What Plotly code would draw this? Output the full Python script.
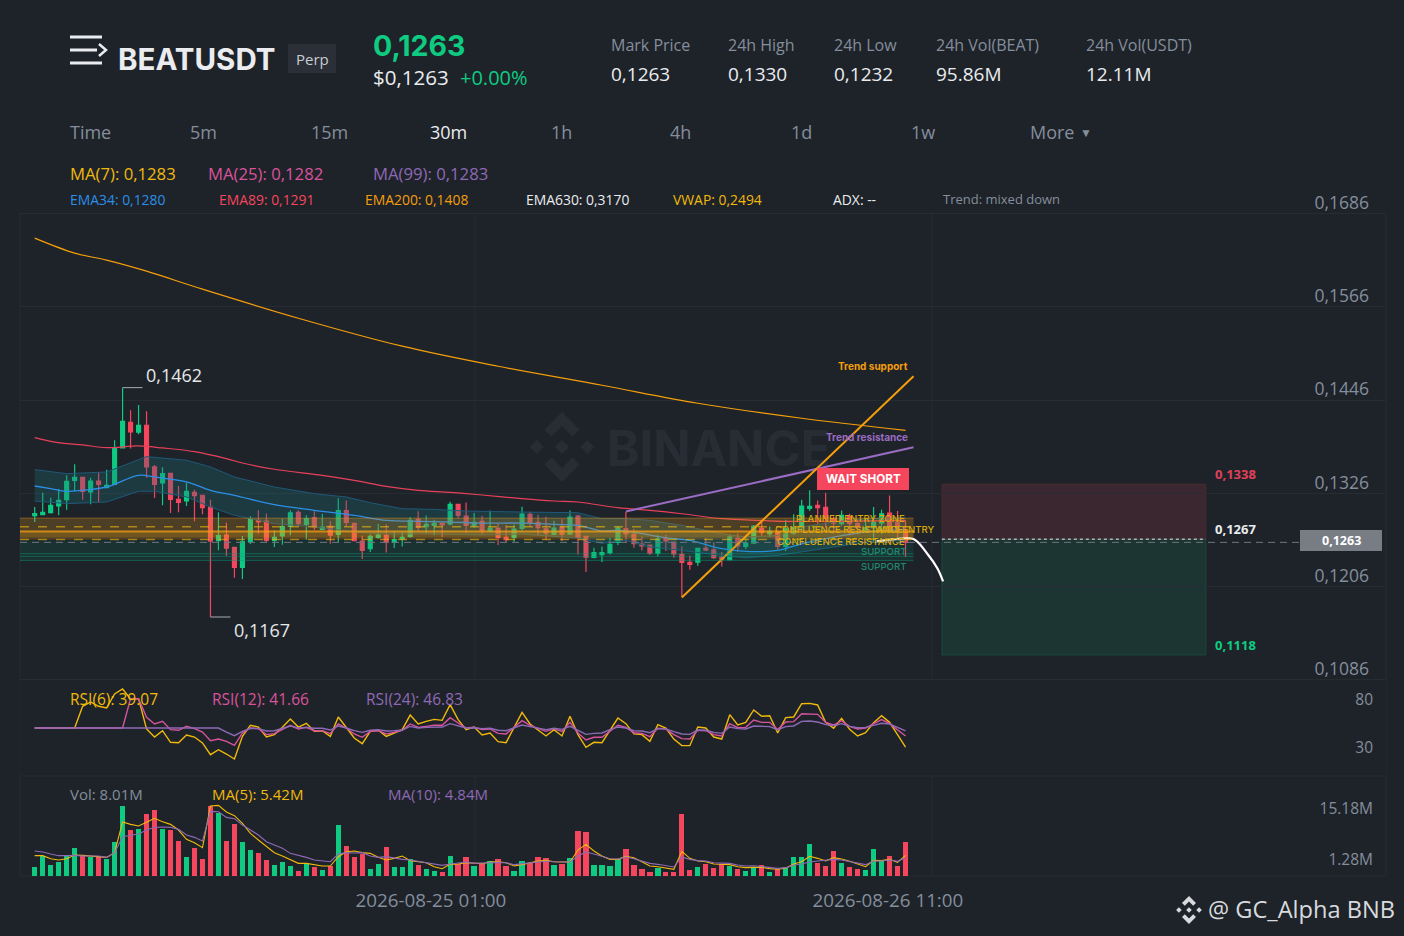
import plotly.graph_objects as go

W = 1404
H = 936

BG = "#1e2329"
GRID = "#272c33"
GRAY = "#848e9c"
WHITE = "#eaecef"
GREEN = "#0ecb81"
RED = "#f6465d"
YELLOW = "#f0b90b"
PINK = "#d9539c"
PURPLE = "#8e69b5"
ORANGE = "#f59e0b"
BLUE = "#2b8fe8"
FONT = "Open Sans"

# candles, 30m bars
open_ = [0.12973,0.12986,0.13012,0.13098,0.13179,0.13428,0.13467,0.13278,0.13419,0.13334,
         0.13377,0.13844,0.14175,0.14046,0.14136,0.13600,0.13394,0.13518,0.13184,0.13162,
         0.13274,0.13235,0.13085,0.12652,0.12724,0.12566,0.12308,0.12643,0.12913,0.12905,
         0.12656,0.12712,0.12836,0.13016,0.12862,0.12948,0.12797,0.12836,0.12733,0.13037,
         0.12874,0.12647,0.12548,0.12694,0.12720,0.12630,0.12673,0.12707,0.12926,0.12831,
         0.12848,0.12874,0.12866,0.13119,0.12969,0.12844,0.12900,0.12775,0.12810,0.12694,
         0.12694,0.12810,0.12990,0.12887,0.12805,0.12733,0.12827,0.12737,0.12969,0.12707,
         0.12437,0.12471,0.12497,0.12630,0.12805,0.12732,0.12608,0.12595,0.12492,0.12689,
         0.12634,0.12475,0.12372,0.12376,0.12556,0.12535,0.12436,0.12406,0.12681,0.12578,
         0.12621,0.12809,0.12741,0.12762,0.12578,0.12749,0.12818,0.13067,0.13105,0.13080,
         0.12934,0.12870,0.12964,0.12870,0.12775,0.12818,0.12878,0.13007,0.12891,0.12792]
close = [0.12999,0.13016,0.13106,0.13171,0.13415,0.13467,0.13287,0.13419,0.13377,0.13364,
         0.13848,0.14187,0.14050,0.14136,0.13600,0.13377,0.13514,0.13184,0.13145,0.13287,
         0.13231,0.13076,0.12647,0.12716,0.12557,0.12308,0.12639,0.12930,0.12892,0.12656,
         0.12694,0.12832,0.13008,0.12870,0.12935,0.12828,0.12827,0.12724,0.13037,0.12887,
         0.12651,0.12527,0.12707,0.12724,0.12630,0.12664,0.12694,0.12913,0.12823,0.12861,
         0.12874,0.12853,0.13119,0.12977,0.12848,0.12887,0.12784,0.12810,0.12694,0.12664,
         0.12801,0.12994,0.12887,0.12818,0.12750,0.12814,0.12733,0.12956,0.12694,0.12441,
         0.12497,0.12497,0.12604,0.12818,0.12741,0.12612,0.12586,0.12492,0.12676,0.12646,
         0.12483,0.12372,0.12346,0.12552,0.12531,0.12432,0.12415,0.12698,0.12586,0.12621,
         0.12835,0.12758,0.12771,0.12578,0.12805,0.12818,0.13097,0.13093,0.13075,0.12938,
         0.12878,0.12977,0.12870,0.12818,0.12818,0.12891,0.12998,0.12784,0.12784,0.12630]
high = [0.13085,0.13269,0.13205,0.13317,0.13492,0.13634,0.13471,0.13462,0.13527,0.13565,
        0.13943,0.14620,0.14329,0.14398,0.14316,0.13625,0.13595,0.13518,0.13355,0.13398,
        0.13308,0.13235,0.13179,0.13016,0.12883,0.12566,0.12712,0.12965,0.13042,0.13001,
        0.12785,0.12930,0.13042,0.13042,0.12978,0.13029,0.12999,0.12900,0.13196,0.13170,
        0.12883,0.12715,0.12733,0.12870,0.12861,0.12776,0.12763,0.12956,0.13029,0.12977,
        0.12921,0.12874,0.13153,0.13119,0.13144,0.13007,0.12973,0.13041,0.12870,0.12853,
        0.12861,0.13089,0.13024,0.12986,0.12960,0.12909,0.12926,0.13041,0.12986,0.12707,
        0.12561,0.12578,0.12690,0.12836,0.13020,0.12805,0.12706,0.12595,0.12724,0.12724,
        0.12634,0.12578,0.12462,0.12561,0.12685,0.12634,0.12505,0.12732,0.12741,0.12681,
        0.12852,0.12912,0.12835,0.12784,0.12921,0.12990,0.13178,0.13299,0.13170,0.13268,
        0.12964,0.13041,0.12998,0.12921,0.12934,0.13084,0.13050,0.13234,0.13032,0.12912]
low = [0.12892,0.12978,0.13000,0.12978,0.13051,0.13291,0.13179,0.13119,0.13149,0.13334,
       0.13377,0.13844,0.13836,0.14020,0.13462,0.13201,0.13106,0.13008,0.13016,0.13098,
       0.12900,0.12991,0.11670,0.12527,0.12459,0.12175,0.12158,0.12609,0.12742,0.12622,
       0.12570,0.12600,0.12720,0.12840,0.12665,0.12793,0.12797,0.12612,0.12634,0.12836,
       0.12642,0.12415,0.12505,0.12677,0.12501,0.12557,0.12578,0.12690,0.12775,0.12750,
       0.12720,0.12698,0.12848,0.12939,0.12750,0.12818,0.12733,0.12775,0.12595,0.12630,
       0.12638,0.12780,0.12836,0.12724,0.12664,0.12720,0.12647,0.12733,0.12475,0.12248,
       0.12424,0.12377,0.12475,0.12595,0.12634,0.12561,0.12526,0.12466,0.12449,0.12518,
       0.12432,0.11926,0.12277,0.12329,0.12518,0.12415,0.12320,0.12398,0.12505,0.12543,
       0.12612,0.12719,0.12698,0.12535,0.12518,0.12728,0.12775,0.13032,0.12870,0.12818,
       0.12741,0.12844,0.12719,0.12732,0.12762,0.12634,0.12741,0.12784,0.12698,0.12441]

# volume in millions
volume = [2.36,5.45,3.00,3.90,5.45,7.54,5.45,5.08,5.45,4.54,
          9.35,19.07,12.62,12.80,16.89,17.98,12.80,12.62,9.62,5.18,
          7.72,4.63,19.07,17.07,9.44,14.07,9.26,6.99,6.36,4.27,
          3.00,3.72,2.72,1.36,3.45,2.36,1.63,2.72,13.80,8.17,
          5.18,5.99,1.91,3.18,7.81,2.36,2.45,4.63,3.09,1.91,
          1.45,1.09,5.36,3.27,5.18,2.72,3.27,4.00,4.54,2.72,
          1.45,4.18,3.45,5.27,4.90,3.09,3.27,4.90,12.35,11.99,
          3.00,2.91,2.63,4.54,7.26,3.09,1.82,1.09,2.18,1.09,
          1.09,16.80,1.63,2.54,3.27,2.18,3.27,2.72,2.00,1.27,
          2.18,2.91,1.09,2.00,2.36,5.08,5.18,8.72,3.45,2.81,
          6.90,3.45,2.54,1.82,1.63,7.35,4.00,5.45,2.63,9.26]
vol_ma5 = [5.54,5.54,4.72,4.36,4.72,5.72,5.63,5.45,5.45,5.08,
           6.36,14.71,14.07,13.62,14.62,15.71,14.80,14.07,12.53,9.99,
           9.08,7.72,19.07,19.25,17.43,16.43,14.35,11.62,9.81,7.99,
           6.36,5.45,4.54,3.45,3.45,3.00,2.72,2.72,5.27,6.63,
           6.81,6.36,6.17,5.08,4.36,4.81,5.45,4.18,3.81,3.63,
           2.54,2.00,3.18,3.27,3.63,3.45,3.36,3.81,3.90,3.63,
           2.72,3.09,3.54,4.09,4.27,3.90,3.81,3.81,7.08,8.63,
           6.81,5.45,4.54,4.54,5.36,4.99,3.90,2.72,2.54,2.09,
           1.82,6.72,4.81,4.09,3.90,3.27,3.18,3.09,2.54,2.27,
           2.36,2.36,2.00,1.82,2.09,3.27,3.90,5.36,4.81,4.09,
           4.99,4.63,4.00,3.27,2.54,4.27,4.18,4.54,3.72,5.63]
vol_ma10 = [6.81,6.54,5.99,5.54,5.54,5.63,5.45,5.45,5.45,5.08,
            6.36,10.71,10.99,11.44,12.53,13.26,13.35,13.26,12.71,11.17,
            10.53,9.53,17.62,17.52,15.98,15.62,13.89,12.53,11.17,9.35,
            8.44,7.54,6.17,5.72,5.08,4.36,4.18,3.90,5.99,6.36,
            6.27,6.36,5.45,5.08,5.27,4.81,4.54,4.36,4.00,3.63,
            3.27,2.91,3.27,3.45,3.81,3.45,3.45,3.63,3.72,3.63,
            3.09,3.27,3.45,3.81,4.00,3.90,3.81,3.81,5.45,6.54,
            5.99,5.27,4.72,4.63,5.18,4.72,4.09,3.45,3.18,2.81,
            2.45,5.18,4.54,4.18,4.09,3.63,3.63,3.45,3.00,2.72,
            2.81,2.63,2.27,2.09,2.27,2.91,3.27,3.81,4.09,4.36,
            4.54,4.36,3.90,3.45,3.09,4.09,4.09,4.36,4.00,4.99]

rsi6 = [50,50,50,50,50,50,72.6,77.1,72.6,70.8,
        85.4,90.6,80.2,80.6,49.0,40.6,47.2,35.1,34.7,42.7,
        40.6,34.4,22.2,27.4,22.9,17.7,41.3,52.8,51.0,40.6,
        43.1,50.7,59.4,51.0,54.9,46.5,47.2,41.3,61.5,50.7,
        39.6,33.7,46.5,47.6,41.3,44.8,48.3,63.5,54.2,56.9,
        59.0,58.0,74.3,58.7,48.3,51.0,42.7,44.8,35.8,34.7,
        50.7,66.3,54.2,47.6,41.7,48.3,41.7,62.2,43.1,29.9,
        35.1,34.7,47.2,60.4,54.5,43.8,43.1,36.1,53.5,50.0,
        38.5,31.6,31.6,51.0,50.0,40.6,38.5,63.9,53.1,55.9,
        68.8,62.2,62.8,44.8,60.8,61.5,75.3,75.7,74.0,55.9,
        49.7,60.1,48.6,41.7,45.1,55.5,62.8,55.9,43.1,30.2]
rsi12 = [50,50,50,50,50,50,50,50,50,50,
         50,50,80.6,80.6,61.1,54.2,56.9,48.3,47.6,51.7,
         49.3,45.8,36.8,38.5,36.1,31.9,44.8,50,49.3,43.1,
         44.1,48.3,52.8,49.0,50.7,47.2,47.2,44.1,54.2,50,
         43.8,40.3,46.5,47.2,43.8,45.5,47.6,54.2,50.7,51.7,
         52.8,52.8,60.8,55.2,50,50.7,48.3,49.0,44.4,43.8,
         50.7,57.6,52.8,50,46.5,49.3,46.5,55.9,44.8,37.5,
         40.3,40.3,46.5,52.8,50.7,45.1,44.4,41.0,49.7,49.0,
         43.1,38.9,38.5,47.6,47.2,43.1,41.7,54.5,50.3,50.7,
         58.3,55.9,55.9,48.3,56.2,56.6,64.9,64.9,64.2,55.9,
         53.1,57.6,51.7,49.0,50,54.5,58.7,54.5,48.3,41.7]
rsi24 = [50,50,50,50,50,50,50,50,50,50,
         50,50,50,50,50,50,50,50,50,50,
         50,50,50,50,45.8,42.0,46.5,49.7,49.3,46.9,
         47.2,49.3,52.1,50,50.7,49.7,49.7,47.9,52.1,50,
         47.2,45.5,47.6,48.3,46.9,47.2,47.9,51.7,50,50.7,
         51.0,51.0,54.5,52.1,50,50.3,49.3,49.7,47.6,47.2,
         50.3,53.1,51.4,49.7,48.3,49.7,48.6,51.7,47.2,43.4,
         44.4,44.8,48.3,51.0,50,47.2,46.9,45.1,49.3,49.0,
         46.2,43.8,43.4,47.9,47.6,45.5,44.4,51.0,49.3,49.0,
         52.1,51.7,51.4,48.3,51.4,52.1,56.9,57.3,56.2,53.5,
         52.4,54.5,51.7,50.3,50.7,52.8,54.9,54.2,50.7,46.9]

# moving averages on price, read at a few bars
ema200_idx = [0,5,9,14,21,33,46,58,71,83,96,109]
ema200 = [0.16543,0.16350,0.16260,0.16118,0.15887,0.15513,0.15153,0.14895,0.14651,0.14419,0.14226,0.14071]
ema89_idx = [0,2,4,6,9,13,16,20,24,26,30,36,40,44,48,52,56,61,65,68,73,77,81,86,91,94,109]
ema89 = [0.13977,0.13930,0.13900,0.13883,0.13848,0.13870,0.13844,0.13797,0.13707,0.13651,0.13570,0.13492,
         0.13428,0.13350,0.13299,0.13273,0.13239,0.13192,0.13162,0.13149,0.13076,0.13041,0.12998,0.12934,
         0.12912,0.12900,0.12912]
ema34_idx = [0,2,4,9,10,13,15,19,22,25,30,35,40,44,48,52,56,61,65,68,71,73,76,79,82,86,89,93,96,100,104,109]
ema34 = [0.13355,0.13321,0.13287,0.13342,0.13377,0.13492,0.13471,0.13407,0.13299,0.13235,0.13115,0.13042,
         0.12977,0.12913,0.12900,0.12891,0.12878,0.12878,0.12861,0.12848,0.12776,0.12784,0.12741,0.12689,
         0.12655,0.12548,0.12513,0.12526,0.12612,0.12698,0.12762,0.12797]
band_up_idx = [0,4,9,13,14,19,22,25,30,35,39,42,46,50,54,61,68,71,74,77,81,86,89,93,96,100,104,109]
band_up = [0.13565,0.13514,0.13535,0.13698,0.13733,0.13686,0.13600,0.13471,0.13342,0.13256,0.13213,0.13140,
           0.13063,0.13054,0.13033,0.13020,0.13011,0.12934,0.12934,0.12912,0.12848,0.12741,0.12698,0.12719,
           0.12827,0.12891,0.12934,0.12947]
band_lo_idx = [0,4,9,13,15,19,22,25,30,35,40,44,48,52,56,61,65,68,71,74,77,81,86,89,93,96,100,104,109]
band_lo = [0.13162,0.13128,0.13149,0.13287,0.13287,0.13214,0.13085,0.12978,0.12870,0.12828,0.12763,0.12736,
           0.12740,0.12737,0.12726,0.12736,0.12707,0.12685,0.12618,0.12655,0.12569,0.12526,0.12462,0.12432,
           0.12462,0.12505,0.12569,0.12634,0.12655]

# drawn lines
trend_sup_idx = [81,110]
trend_sup = [0.11921,0.14767]
trend_res_idx = [74,110]
trend_res = [0.13028,0.13852]
path_idx = [105.4,107.7,110,111.7,113,113.7]
path_price = [0.12642,0.12672,0.12672,0.12487,0.12294,0.12127]

# zones, right end is just after the last bar
zone_end = 110
resist_zone = [0.12664,0.12942]
resist_core = [0.12693,0.12784]
resist_lines = [0.12771]
resist_dash = [0.12831,0.12668]
support_zone = [0.12397,0.12655]
support_lines = [0.12484,0.12449,0.12397]
last_price = 0.1263
high_mark = 0.1462
low_mark = 0.1167
high_idx = 11
low_idx = 22

# short position box
box_idx = [113.55,146.6]
box_stop = 0.1338
box_entry = 0.1267
box_target = 0.1118

price_ticks = [0.1086,0.1206,0.1326,0.1446,0.1566,0.1686]
rsi_ticks = [30,80]
vol_ticks = [1.28,15.18]
vol_ticktext = ["1.28M","15.18M"]
date_ticks = [55.1,112.3]
date_labels = ["2026-08-25 01:00","2026-08-26 11:00"]

header_cols = [(611,"Mark Price","0,1263"),(728,"24h High","0,1330"),(834,"24h Low","0,1232"),
               (936,"24h Vol(BEAT)","95.86M"),(1086,"24h Vol(USDT)","12.11M")]
timeframes = [(70,"Time"),(190,"5m"),(311,"15m"),(430,"30m"),(551,"1h"),(670,"4h"),(791,"1d"),(911,"1w"),(1030,"More")]
ma_legend = [(70,"MA(7): 0,1283",YELLOW),(208,"MA(25): 0,1282",PINK),(373,"MA(99): 0,1283",PURPLE)]
ema_legend = [(70,"EMA34: 0,1280",BLUE),(219,"EMA89: 0,1291",RED),(365,"EMA200: 0,1408",ORANGE),
              (526,"EMA630: 0,3170",WHITE),(673,"VWAP: 0,2494",YELLOW),(833,"ADX: --",WHITE),(943,"Trend: mixed down",GRAY)]
rsi_legend = [(70,"RSI(6): 39.07",YELLOW),(212,"RSI(12): 41.66",PINK),(366,"RSI(24): 46.83",PURPLE)]
vol_legend = [(70,"Vol: 8.01M",GRAY),(212,"MA(5): 5.42M",YELLOW),(388,"MA(10): 4.84M",PURPLE)]


def px_x(x):
    return x / W


def px_y(y):
    return 1 - y / H


annotations = []
shapes = []


def label(x, y, text, color=WHITE, size=16, anchor="left", weight=None, family=FONT):
    if anchor == "left":
        x = x - 1
    annotations.append(dict(xref="paper", yref="paper", x=px_x(x), y=px_y(y), text=text, showarrow=False,
                            xanchor=anchor, yanchor="middle", borderpad=0,
                            font=dict(family=family, size=size, color=color, weight=weight)))


def paper_poly(points, color, layer="above"):
    path = "M " + " L ".join(f"{px_x(a):.5f},{px_y(b):.5f}" for a, b in points) + " Z"
    shapes.append(dict(type="path", path=path, xref="paper", yref="paper", fillcolor=color, line_width=0, layer=layer))


def paper_line(x0, y0, x1, y1, color, width=1, layer="above"):
    shapes.append(dict(type="line", xref="paper", yref="paper", x0=px_x(x0), x1=px_x(x1), y0=px_y(y0), y1=px_y(y1),
                       line=dict(color=color, width=width), layer=layer))


def binance_logo(cx, cy, r, color, layer="above"):
    top = [(0, -1), (.5, -.5), (.3, -.3), (0, -.6), (-.3, -.3), (-.5, -.5)]
    paper_poly([(cx + a * r, cy + b * r) for a, b in top], color, layer)
    paper_poly([(cx + a * r, cy - b * r) for a, b in top], color, layer)
    for dx in (-.72, 0, .72):
        paper_poly([(cx + (dx - .2) * r, cy), (cx + dx * r, cy - .2 * r), (cx + (dx + .2) * r, cy), (cx + dx * r, cy + .2 * r)], color, layer)


def zone(y0, y1, fill):
    shapes.append(dict(type="rect", xref="x", yref="y", x0=-1.84, x1=zone_end, y0=y0, y1=y1, fillcolor=fill, line_width=0, layer="above"))


def hline(y, color, width=1, dash="solid", x0=-1.84, x1=zone_end):
    shapes.append(dict(type="line", xref="x", yref="y", x0=x0, x1=x1, y0=y, y1=y, line=dict(color=color, width=width, dash=dash), layer="above"))


bars = list(range(len(close)))
fig = go.Figure()

# EMA band first so candles sit on top
fig.add_trace(go.Scatter(x=band_up_idx, y=band_up, mode="lines", line=dict(color="#1f5878", width=1), yaxis="y"))
fig.add_trace(go.Scatter(x=band_lo_idx, y=band_lo, mode="lines", line=dict(color="#1f5878", width=1), fill="tonexty",
                         fillcolor="rgba(34,112,124,0.30)", yaxis="y"))
fig.add_trace(go.Scatter(x=ema34_idx, y=ema34, mode="lines", line=dict(color=BLUE, width=1.3, shape="spline"), yaxis="y"))
fig.add_trace(go.Scatter(x=ema89_idx, y=ema89, mode="lines", line=dict(color="#e8405a", width=1.2, shape="spline"), yaxis="y"))
fig.add_trace(go.Scatter(x=ema200_idx, y=ema200, mode="lines", line=dict(color=ORANGE, width=1.2, shape="spline"), yaxis="y"))

fig.add_trace(go.Candlestick(x=bars, open=open_, high=high, low=low, close=close, whiskerwidth=0,
                             increasing=dict(line=dict(color=GREEN, width=1.2), fillcolor=GREEN),
                             decreasing=dict(line=dict(color=RED, width=1.2), fillcolor=RED), yaxis="y"))

fig.add_trace(go.Scatter(x=trend_res_idx, y=trend_res, mode="lines", line=dict(color="#9b6cc4", width=2), yaxis="y"))
fig.add_trace(go.Scatter(x=trend_sup_idx, y=trend_sup, mode="lines", line=dict(color=ORANGE, width=2), yaxis="y"))
fig.add_trace(go.Scatter(x=path_idx, y=path_price, mode="lines", line=dict(color="#ffffff", width=2.2, shape="spline"), yaxis="y"))

# rsi pane
fig.add_trace(go.Scatter(x=bars, y=rsi6, mode="lines", line=dict(color=YELLOW, width=1.4), yaxis="y2"))
fig.add_trace(go.Scatter(x=bars, y=rsi12, mode="lines", line=dict(color=PINK, width=1.4), yaxis="y2"))
fig.add_trace(go.Scatter(x=bars, y=rsi24, mode="lines", line=dict(color=PURPLE, width=1.4), yaxis="y2"))

# volume pane
vol_colors = [GREEN if c >= o else RED for o, c in zip(open_, close)]
fig.add_trace(go.Bar(x=bars, y=volume, marker=dict(color=vol_colors, line_width=0), width=0.66, yaxis="y3"))
fig.add_trace(go.Scatter(x=bars, y=vol_ma5, mode="lines", line=dict(color=YELLOW, width=1.1), yaxis="y3"))
fig.add_trace(go.Scatter(x=bars, y=vol_ma10, mode="lines", line=dict(color=PURPLE, width=1.1), yaxis="y3"))

# resistance and support zones
zone(resist_zone[0], resist_zone[1], "rgba(232,150,30,0.24)")
zone(resist_core[0], resist_core[1], "rgba(240,170,20,0.22)")
for v in resist_lines:
    hline(v, "rgba(245,160,20,0.7)", 2)
for v in resist_dash:
    hline(v, "rgba(240,185,11,0.6)", 1.5, "dash")
hline(resist_zone[1], "rgba(232,150,30,0.4)", 1)
zone(support_zone[0], support_zone[1], "rgba(14,140,110,0.14)")
for v in support_lines:
    hline(v, "rgba(14,150,120,0.45)", 1)

# short box
shapes.append(dict(type="rect", xref="x", yref="y", x0=box_idx[0], x1=box_idx[1], y0=box_entry, y1=box_stop,
                   fillcolor="rgba(246,70,93,0.13)", line=dict(color="rgba(246,70,93,0.12)", width=1), layer="below"))
shapes.append(dict(type="rect", xref="x", yref="y", x0=box_idx[0], x1=box_idx[1], y0=box_target, y1=box_entry,
                   fillcolor="rgba(14,203,129,0.11)", line=dict(color="rgba(14,203,129,0.18)", width=1), layer="below"))
hline(box_entry, "#aab0b6", 1.3, "3px,3px", x0=box_idx[0], x1=box_idx[1])
hline(last_price, "#6f757d", 1, "7px,5px", x1=158.6)

# high and low markers
shapes.append(dict(type="line", xref="x", yref="y", x0=high_idx, x1=high_idx + 2.5, y0=high_mark, y1=high_mark, line=dict(color="#a7acb3", width=1)))
shapes.append(dict(type="line", xref="x", yref="y", x0=low_idx, x1=low_idx + 2.5, y0=low_mark, y1=low_mark, line=dict(color="#a7acb3", width=1)))
label(146, 375, "0,1462", "#e6e8ea", 18)
label(234, 630, "0,1167", "#e6e8ea", 18)

# pane frame and the two date gridlines
shapes.append(dict(type="rect", xref="paper", yref="paper", x0=px_x(20), x1=px_x(1386), y0=px_y(876), y1=px_y(213.5),
                   line=dict(color=GRID, width=1), layer="below"))
paper_line(20, 776, 1386, 776, GRID)
for t in date_ticks:
    shapes.append(dict(type="line", xref="x", yref="paper", x0=t, x1=t, y0=px_y(876), y1=px_y(213.5),
                       line=dict(color=GRID, width=1), layer="below"))

# watermark
binance_logo(562, 447, 35, "rgba(132,142,156,0.10)", "below")
label(607, 448, "BINANCE", "rgba(132,142,156,0.10)", 49, weight=700, family="Inter")

# header
for y in (37, 50, 63):
    paper_line(70, y, 102 if y != 50 else 97, y, WHITE, 3)
shapes.append(dict(type="path", path=f"M {px_x(99):.5f},{px_y(44):.5f} L {px_x(106):.5f},{px_y(50):.5f} L {px_x(99):.5f},{px_y(56):.5f}",
                   xref="paper", yref="paper", line=dict(color=WHITE, width=2.5)))
label(118, 59, "BEATUSDT", WHITE, 29.5, weight=700, family="Inter")
shapes.append(dict(type="rect", xref="paper", yref="paper", x0=px_x(288), x1=px_x(336), y0=px_y(73), y1=px_y(44), fillcolor="#2b3038", line_width=0))
label(312, 59, "Perp", "#c9ccd1", 15, "center")
label(373, 45, "0,1263", GREEN, 28.5, weight=700, family="Inter")
label(373, 77, "$0,1263", WHITE, 20.5)
label(460, 77, "+0.00%", GREEN, 20)
for x, head, val in header_cols:
    label(x, 45, head, GRAY, 16)
    label(x, 74, val, WHITE, 19)
for x, txt in timeframes:
    label(x, 132, txt, WHITE if txt == "30m" else GRAY, 18)
label(1080, 133, "▼", GRAY, 12)
for x, txt, col in ma_legend:
    label(x, 173, txt, col, 16.7)
for x, txt, col in ema_legend:
    label(x, 199, txt, col, 13 if txt.startswith("Trend") else 13.9)
for x, txt, col in rsi_legend:
    label(x, 699, txt, col, 15.5)
for x, txt, col in vol_legend:
    label(x, 794, txt, col, 15)

# chart notes
label(909, 366, "Trend support", ORANGE, 10, "right", 700, "Inter")
label(909, 437, "Trend resistance", "#9b6cc4", 10, "right", 700, "Inter")
shapes.append(dict(type="rect", xref="paper", yref="paper", x0=px_x(817), x1=px_x(909), y0=px_y(490), y1=px_y(468), fillcolor="#f6465d", line_width=0))
label(863, 479, "WAIT SHORT", "#ffffff", 11.7, "center", 700, "Inter")
label(906, 518, "PLANNED ENTRY ZONE", "#d9a80c", 9.6, "right", 500, "Inter")
label(904, 529, "CONFLUENCE RESISTANCE", "#d9a80c", 9.6, "right", 500, "Inter")
label(936, 529, "WAIT ENTRY", "#d9a80c", 9.6, "right", 500, "Inter")
label(906, 541, "CONFLUENCE RESISTANCE", "#d9a80c", 9.6, "right", 500, "Inter")
label(907, 551, "SUPPORT", "#1f8a6f", 9.6, "right", 500, "Inter")
label(907, 566, "SUPPORT", "#1f8a6f", 9.6, "right", 500, "Inter")
label(1215, 474, "0,1338", "#e0405a", 13, weight=700)
label(1215, 529, "0,1267", WHITE, 13, weight=700)
label(1215, 645, "0,1118", GREEN, 13, weight=700)

# last price tag
shapes.append(dict(type="rect", xref="paper", yref="paper", x0=px_x(1300), x1=px_x(1382), y0=px_y(551), y1=px_y(530), fillcolor="#777c85", line_width=0))
label(1341, 540, "0,1263", "#ffffff", 12.5, "center", 700)

# footer credit
binance_logo(1189, 910, 14, "#d8dadd")
label(1208, 909, "@ GC_Alpha BNB", "#d8dadd", 23.6)

y_common = dict(side="right", anchor="x", zeroline=False, showline=False, ticks="", ticklabelposition="inside",
                tickmode="array")

# the price axis runs a little past the pane at both ends, otherwise the first and last
# inside labels get dropped
fig.update_layout(
    width=W, height=H, margin=dict(l=0, r=0, t=0, b=0), paper_bgcolor=BG, plot_bgcolor=BG,
    showlegend=False, hovermode=False, separators=", ", bargap=0, dragmode=False,
    annotations=annotations, shapes=shapes,
    xaxis=dict(domain=[px_x(20), px_x(1386)], range=[-1.84, 169.14], anchor="y3", rangeslider=dict(visible=False),
               tickmode="array", tickvals=date_ticks, ticktext=date_labels, ticks="", zeroline=False,
               showgrid=False, ticklabelshift=-44, ticklabelstandoff=11,
               tickfont=dict(family=FONT, size=18.8, color=GRAY)),
    yaxis=dict(domain=[px_y(690), px_y(160)], range=[0.10731, 0.17548], tickvals=price_ticks,
               tickformat=".4f", ticklabelshift=-11, ticklabelstandoff=14, showgrid=True, gridcolor=GRID,
               tickfont=dict(family=FONT, size=17.5, color=GRAY), **y_common),
    yaxis2=dict(domain=[px_y(776), px_y(680)], range=[0, 100], tickvals=rsi_ticks, ticklabelstandoff=10, showgrid=False,
                tickfont=dict(family=FONT, size=15.5, color=GRAY), **y_common),
    yaxis3=dict(domain=[px_y(876), px_y(776)], range=[0, 27.25], tickvals=vol_ticks, ticktext=vol_ticktext,
                ticklabelshift=-12, ticklabelstandoff=10, showgrid=False,
                tickfont=dict(family=FONT, size=15.5, color=GRAY), **y_common),
)

fig.write_html("out.html", config=dict(displayModeBar=False), post_script="document.body.style.margin='0';")
